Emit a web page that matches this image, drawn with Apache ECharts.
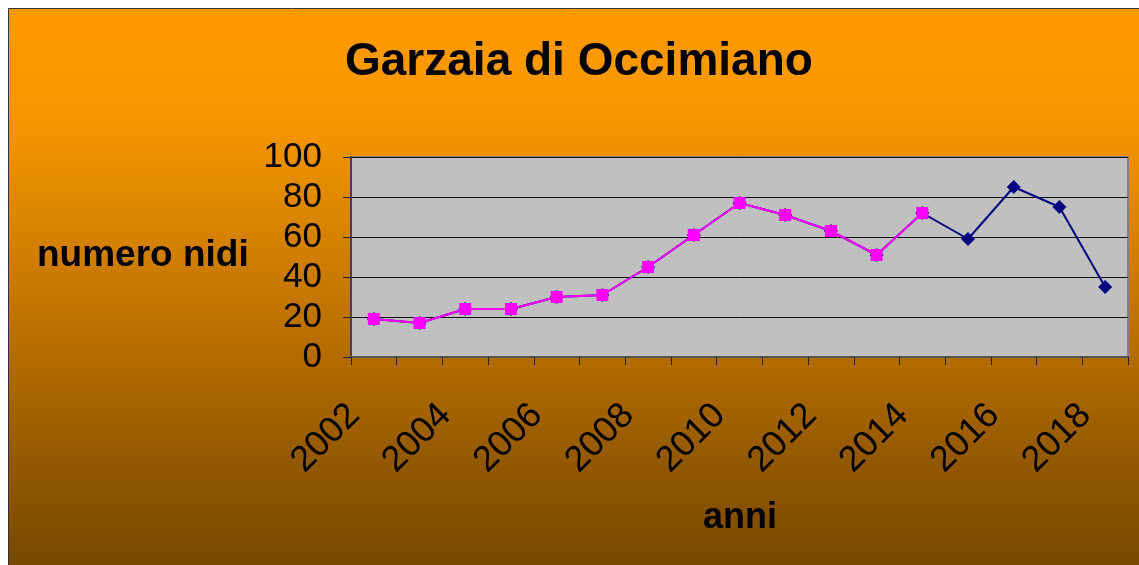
<!DOCTYPE html>
<html>
<head>
<meta charset="utf-8">
<script src="https://cdn.jsdelivr.net/npm/echarts@6/dist/echarts.min.js"></script>
<style>
  html, body { margin: 0; padding: 0; background: #fff; }
  #main { width: 1139px; height: 565px; }
</style>
</head>
<body>
<div id="main"></div>
<script>
// anni 2002-2018
var years = ['2002', '2003', '2004', '2005', '2006', '2007', '2008', '2009', '2010',
             '2011', '2012', '2013', '2014', '2015', '2016', '2017', '2018'];
// numero nidi (serie completa, blu)
var nidiTotale = [19, 17, 24, 24, 30, 31, 45, 61, 77, 71, 63, 51, 72, 59, 85, 75, 35];
// tratto fucsia 2002-2014
var nidiFucsia = [19, 17, 24, 24, 30, 31, 45, 61, 77, 71, 63, 51, 72];
var yTicks = [0, 20, 40, 60, 80, 100];

var font = 'Liberation Sans, Arial, sans-serif';

var option = {
    animation: false,
    graphic: [{
        type: 'rect',
        z: -10,
        shape: { x: 8.5, y: 8.5, width: 1140, height: 570 },
        style: {
            stroke: '#333',
            lineWidth: 1,
            fill: new echarts.graphic.LinearGradient(0, 0, 0, 1, [
                { offset: 0, color: '#ff9a00' },
                { offset: 0.15, color: '#fb9800' },
                { offset: 0.24, color: '#f09200' },
                { offset: 0.63, color: '#b06a00' },
                { offset: 0.78, color: '#955a00' },
                { offset: 1, color: '#744700' }
            ])
        }
    }],
    title: [
        {
            text: 'Garzaia di Occimiano',
            left: 345,
            top: 39,
            padding: 0,
            textStyle: { fontFamily: font, fontSize: 46, fontWeight: 'bold', color: '#000' }
        },
        {
            text: 'numero nidi',
            left: 37,
            top: 237,
            padding: 0,
            textStyle: { fontFamily: font, fontSize: 37, fontWeight: 'bold', color: '#000' }
        },
        {
            text: 'anni',
            left: 703,
            top: 500,
            padding: 0,
            textStyle: { fontFamily: font, fontSize: 36, fontWeight: 'bold', color: '#000' }
        }
    ],
    grid: {
        left: 351,
        top: 157,
        width: 777,
        height: 200,
        show: true,
        backgroundColor: '#c0c0c0',
        borderColor: '#808080',
        borderWidth: 2
    },
    xAxis: {
        type: 'category',
        data: years,
        boundaryGap: true,
        axisLine: { lineStyle: { color: '#555', width: 2 } },
        axisTick: { show: true, interval: 0, length: 8, lineStyle: { color: '#222' } },
        axisLabel: {
            interval: 1,
            rotate: 45,
            margin: 33,
            padding: [0, 28, 0, 0],
            fontFamily: font,
            fontSize: 36,
            color: '#000'
        },
        splitLine: { show: false }
    },
    yAxis: {
        type: 'value',
        min: yTicks[0],
        max: yTicks[yTicks.length - 1],
        interval: 20,
        axisLine: { show: true, lineStyle: { color: '#444', width: 2 } },
        axisTick: { show: true, length: 8, lineStyle: { color: '#222' } },
        axisLabel: {
            margin: 29,
            fontFamily: font,
            fontSize: 35,
            color: '#000'
        },
        splitLine: { show: true, lineStyle: { color: '#111', width: 1 } }
    },
    series: [
        {
            name: 'totale',
            type: 'line',
            data: nidiTotale,
            symbol: 'diamond',
            symbolSize: 14,
            z: 2,
            itemStyle: { color: '#000080' },
            lineStyle: { color: '#000080', width: 2 }
        },
        {
            name: 'fucsia',
            type: 'line',
            data: nidiFucsia,
            symbol: 'rect',
            symbolSize: 12,
            z: 3,
            itemStyle: { color: '#ff00ff' },
            lineStyle: { color: '#ff00ff', width: 2 }
        }
    ]
};

var myChart = echarts.init(document.getElementById('main'));
myChart.setOption(option);
</script>
</body>
</html>
